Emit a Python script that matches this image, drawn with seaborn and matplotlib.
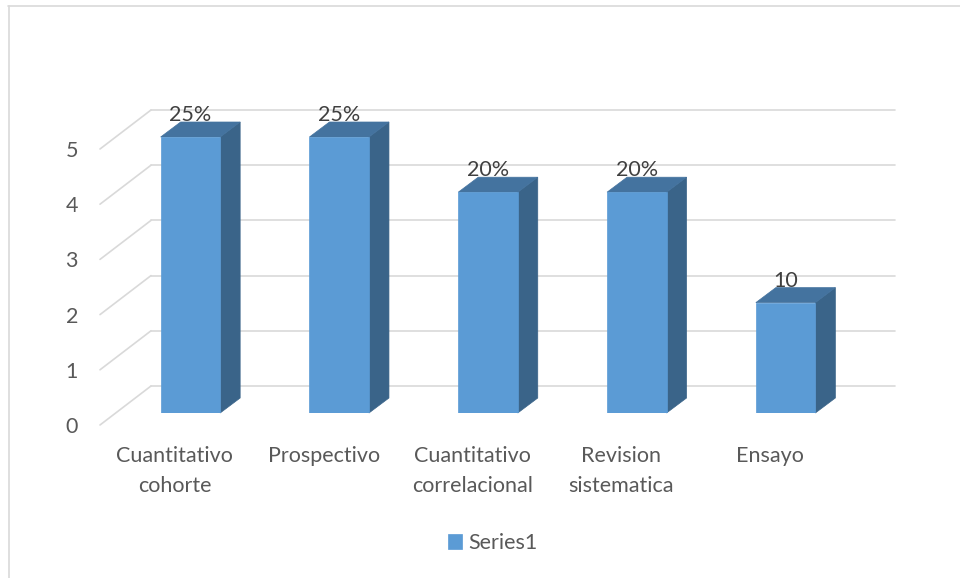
import numpy as np
import pandas as pd
import seaborn as sns
import matplotlib
matplotlib.use("Agg")
import matplotlib.pyplot as plt
import matplotlib.transforms as mtransforms
from matplotlib.patches import Polygon
from matplotlib.lines import Line2D

# ---- data ----
categories = ["Cuantitativo\ncohorte", "Prospectivo", "Cuantitativo\ncorrelacional",
              "Revision\nsistematica", "Ensayo"]
values = [5, 5, 4, 4, 2]
data_labels = ["25%", "25%", "20%", "20%", "10"]
y_ticks = [0, 1, 2, 3, 4, 5]
series_name = "Series1"

sns.set_theme(style="white")
plt.rcParams['font.family'] = ['Lato', 'DejaVu Sans']

W, H = 960, 578
FS = 15.5
TXT = "#595959"
GRID = "#D9D9D9"
FRONT = "#5B9BD5"
TOP = "#44739F"
SIDE = "#3A6489"
DX, DY = 20, 15  # bar depth in pixels

fig = plt.figure(figsize=(W / 100, H / 100), dpi=100)
fig.patch.set_facecolor("white")
ax = fig.add_axes([116 / W, (H - 413) / H, 744 / W, 276 / H])

df = pd.DataFrame({"cat": categories, "val": values})
sns.barplot(data=df, x="cat", y="val", width=0.4, color=FRONT, saturation=1,
            ax=ax, label=series_name, zorder=3, edgecolor=FRONT, linewidth=0.5)
ax.set_xlim(-0.5, 4.5)
ax.set_ylim(0, 5)
ax.set_autoscale_on(False)
ax.axis("off")


def off(dx, dy):
    return ax.transData + mtransforms.ScaledTranslation(dx / 100, dy / 100, fig.dpi_scale_trans)


ident = mtransforms.IdentityTransform()

# back wall gridlines
for v in y_ticks:
    ax.plot([-0.5, 4.5], [v, v], transform=off(35, 27), color=GRID, lw=1.2,
            clip_on=False, zorder=1)
    p = ax.transData.transform((-0.5, v))
    fig.add_artist(Line2D([p[0] - 16, p[0] + 35], [p[1] - 12, p[1] + 27],
                          transform=ident, color=GRID, lw=1.2))
    ax.text(-0.5, v, str(v), transform=off(-38, -14), ha="right", va="center",
            fontsize=FS, color=TXT)

# 3D faces
bars = list(ax.patches)
for b in bars:
    x0, w, h = b.get_x(), b.get_width(), b.get_height()
    T = ax.transData.transform
    tl = T((x0, h)); tr = T((x0 + w, h)); br = T((x0 + w, 0))
    d = np.array([DX, DY])
    ax.add_patch(Polygon([br, tr, tr + d, br + d], closed=True, transform=ident,
                         facecolor=SIDE, edgecolor=SIDE, lw=0.5, zorder=2.9, clip_on=False))
    ax.add_patch(Polygon([tl, tr, tr + d, tl + d], closed=True, transform=ident,
                         facecolor=TOP, edgecolor=TOP, lw=0.5, zorder=2.9, clip_on=False))

# data labels
for b, lab in zip(bars, data_labels):
    ax.text(b.get_x() + b.get_width() / 2, b.get_height(), lab, transform=off(0, 16),
            ha="center", va="baseline", fontsize=FS, color="#404040", clip_on=False)

# category labels
for i, cat in enumerate(categories):
    ax.text(i, 0, cat, transform=off(-15.5, -33), ha="center", va="top",
            fontsize=FS, color=TXT, linespacing=1.65)

# legend
leg = ax.legend(loc="center", bbox_to_anchor=(493 / W, (H - 543) / H),
                bbox_transform=fig.transFigure, frameon=False, fontsize=FS,
                handlelength=0.65, handleheight=0.65, handletextpad=0.3)
for t in leg.get_texts():
    t.set_color(TXT)

# chart border (partially visible)
fig.add_artist(Line2D([8 / W, 1], [1 - 5.5 / H, 1 - 5.5 / H], transform=fig.transFigure,
                      color=GRID, lw=1.2))
fig.add_artist(Line2D([8.5 / W, 8.5 / W], [0, 1 - 5.5 / H], transform=fig.transFigure,
                      color=GRID, lw=1.2))

fig.savefig("out.png", dpi=100, facecolor="white")
